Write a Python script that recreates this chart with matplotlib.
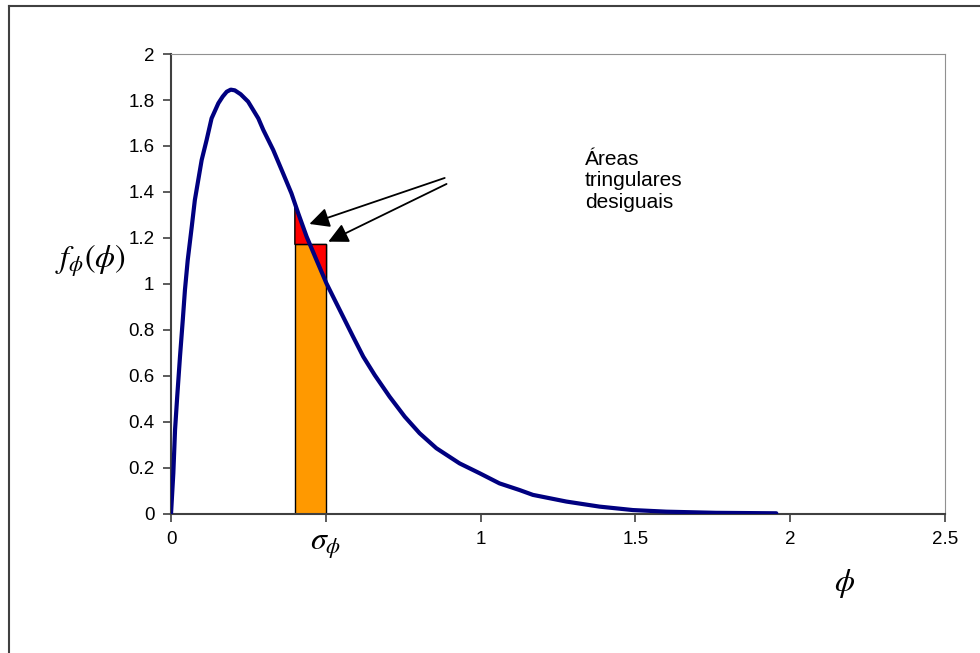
import numpy as np
import matplotlib
matplotlib.use('Agg')
import matplotlib.pyplot as plt
from matplotlib.patches import Rectangle, Polygon
from matplotlib.lines import Line2D

plt.rcParams['font.family'] = ['Liberation Sans', 'DejaVu Sans']
plt.rcParams['mathtext.fontset'] = 'stix'

# densidade f(phi) lida ponto a ponto
phi = [0.0, 0.0075, 0.013, 0.020, 0.029, 0.038, 0.045, 0.054, 0.067, 0.077,
       0.088, 0.099, 0.115, 0.131, 0.153, 0.167, 0.180, 0.193, 0.206, 0.225,
       0.249, 0.282, 0.298, 0.330, 0.362, 0.389, 0.411, 0.438, 0.470, 0.502,
       0.529, 0.545, 0.588, 0.621, 0.658, 0.706, 0.755, 0.803, 0.857, 0.932,
       0.997, 1.061, 1.126, 1.169, 1.277, 1.384, 1.492, 1.600, 1.760, 1.955]
dens = [0.0, 0.178, 0.365, 0.51, 0.684, 0.843, 0.974, 1.104, 1.249, 1.365,
        1.452, 1.539, 1.626, 1.72, 1.786, 1.815, 1.836, 1.845, 1.842, 1.825,
        1.793, 1.72, 1.67, 1.583, 1.481, 1.394, 1.307, 1.206, 1.104, 1.003,
        0.93, 0.887, 0.771, 0.684, 0.604, 0.510, 0.423, 0.351, 0.286, 0.220,
        0.177, 0.133, 0.104, 0.083, 0.054, 0.032, 0.017, 0.010, 0.005, 0.003]

# retangulo em torno de sigma_phi
bar_left = 0.4
bar_right = 0.5
bar_height = 1.172

xticks = [0, 0.5, 1, 1.5, 2, 2.5]
xticklabels = ['0', r'$\sigma_{\phi}$', '1', '1.5', '2', '2.5']
yticks = [0, 0.2, 0.4, 0.6, 0.8, 1, 1.2, 1.4, 1.6, 1.8, 2]
yticklabels = ['0', '0.2', '0.4', '0.6', '0.8', '1', '1.2', '1.4', '1.6', '1.8', '2']

fig = plt.figure(figsize=(9.8, 6.53), dpi=100)
ax = fig.add_axes([0.1745, 0.2129, 0.7898, 0.7044])

ax.add_patch(Rectangle((bar_left, 0), bar_right - bar_left, bar_height,
                       facecolor='#ff9900', edgecolor='black', lw=1, zorder=2))

f_left = np.interp(bar_left, phi, dens)
f_right = np.interp(bar_right, phi, dens)
# ponto onde a curva cruza o topo do retangulo (lado descendente)
desc_phi = phi[18:][::-1]
desc_dens = dens[18:][::-1]
x_cross = np.interp(bar_height, desc_dens, desc_phi)

ax.add_patch(Polygon([(bar_left, bar_height), (bar_left, f_left), (x_cross, bar_height)],
                     closed=True, facecolor='#ff0000', edgecolor='black', lw=1, zorder=3))
ax.add_patch(Polygon([(x_cross, bar_height), (bar_right, bar_height), (bar_right, f_right)],
                     closed=True, facecolor='#ff0000', edgecolor='black', lw=1, zorder=3))

ax.plot(phi, dens, color='#000080', lw=3, solid_capstyle='round',
        solid_joinstyle='round', zorder=4)

# setas do texto
for tip, tail in [((0.447, 1.261), (0.884, 1.461)), ((0.508, 1.184), (0.890, 1.435))]:
    ax.annotate('', xy=tip, xytext=tail,
                arrowprops=dict(arrowstyle='-|>,head_length=0.5,head_width=0.25',
                                color='black', lw=1.3, mutation_scale=24,
                                shrinkA=0, shrinkB=0), zorder=5)

ax.text(1.337, 1.448, 'Áreas\ntringulares\ndesiguais', fontsize=15,
        ha='left', va='center', linespacing=1.15)

ax.set_xlim(0, 2.5)
ax.set_ylim(0, 2)
ax.set_xticks(xticks)
ax.set_xticklabels(xticklabels)
ax.set_yticks(yticks)
ax.set_yticklabels(yticklabels)
ax.tick_params(direction='out', length=6, width=1.2, color='#404040', labelsize=13.5, pad=6)
ax.get_xticklabels()[1].set_fontsize(23)

ax.spines['left'].set_color('#404040')
ax.spines['bottom'].set_color('#404040')
ax.spines['left'].set_linewidth(1.5)
ax.spines['bottom'].set_linewidth(1.5)
ax.spines['top'].set_color('#909090')
ax.spines['right'].set_color('#909090')

fig.text(0.092, 0.60, r'$f_{\phi}(\phi)$', fontsize=23, ha='center', va='center')
fig.text(0.862, 0.107, r'$\phi$', fontsize=23, ha='center', va='center')

# moldura externa
fig.add_artist(Line2D([0.0092, 0.0092], [-0.1, 0.9908], color='#404040', lw=1.5))
fig.add_artist(Line2D([0.0092, 1.1], [0.9908, 0.9908], color='#404040', lw=1.5))

fig.savefig('out.png', dpi=100)
